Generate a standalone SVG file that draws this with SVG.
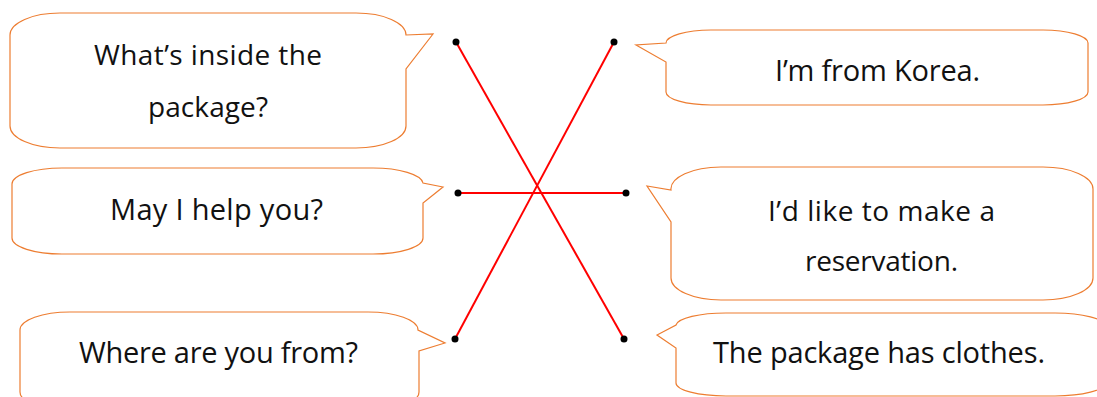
<svg xmlns="http://www.w3.org/2000/svg" width="1097" height="397" viewBox="0 0 1097 397">
<style>
.bub{fill:#fff;stroke:#ED7D31;stroke-width:1.2}
.t{font-family:"Open Sans","Noto Sans",sans-serif;fill:#111;text-anchor:middle}
.s1{font-size:29px}
.s2{font-size:28px}
.ln{stroke:#FF0000;stroke-width:2;fill:none}
.dot{fill:#000}
</style>
<rect width="1097" height="397" fill="#fff"/>
<g id="q1">
<path class="bub" d="M60,13 H356 A50,22 0 0 1 406,35 L433,34 L406,69 V126 A50,22 0 0 1 356,148 H60 A50,22 0 0 1 10,126 V35 A50,22 0 0 1 60,13 Z"/>
<text class="t s2" x="208" y="65" textLength="228" lengthAdjust="spacing">What’s inside the</text>
<text class="t s2" x="208" y="117" textLength="120" lengthAdjust="spacing">package?</text>
</g>
<g id="q2">
<path class="bub" d="M62,168 H373 A50,16 0 0 1 423,183 L443,187 L423,203 V238 A50,16 0 0 1 373,254 H62 A50,16 0 0 1 12,238 V184 A50,16 0 0 1 62,168 Z"/>
<text class="t s1" x="216.5" y="220" textLength="213" lengthAdjust="spacing">May I help you?</text>
</g>
<g id="q3">
<path class="bub" d="M70,312 H368 A50,18 0 0 1 418,330 L445,343 L419,351 V392 A50,18 0 0 1 368,410 H70 A50,18 0 0 1 20,392 V330 A50,18 0 0 1 70,312 Z"/>
<text class="t s1" x="218.5" y="363" textLength="279" lengthAdjust="spacing">Where are you from?</text>
</g>
<g id="a1">
<path class="bub" d="M711,30 H1043 A45,13 0 0 1 1088,43 V92 A45,13 0 0 1 1043,105 H711 A45,13 0 0 1 666,92 V62 L636,45 L666,43 A45,13 0 0 1 711,30 Z"/>
<text class="t s1" x="877.5" y="80.5" textLength="205" lengthAdjust="spacing">I’m from Korea.</text>
</g>
<g id="a2">
<path class="bub" d="M721,167 H1043 A50,22 0 0 1 1093,189 V278 A50,22 0 0 1 1043,300 H721 A50,22 0 0 1 671,278 V222 L647,186 L671,190 A50,22 0 0 1 721,167 Z"/>
<text class="t s2" x="881.5" y="221" textLength="227" lengthAdjust="spacing">I’d like to make a</text>
<text class="t s2" x="881.5" y="271" textLength="153" lengthAdjust="spacing">reservation.</text>
</g>
<g id="a3">
<path class="bub" d="M726,313 H1055 A50,13 0 0 1 1105,326 V383 A50,13 0 0 1 1055,396 H726 A50,13 0 0 1 676,383 V348 L657,335 L676,325 A50,13 0 0 1 726,313 Z"/>
<text class="t s1" x="879" y="363" textLength="332" lengthAdjust="spacing">The package has clothes.</text>
</g>
<g id="connectors">
<line class="ln" x1="456" y1="42" x2="624" y2="339"/>
<line class="ln" x1="614" y1="42" x2="455" y2="339"/>
<line class="ln" x1="458" y1="193" x2="626" y2="193"/>
<circle class="dot" cx="456" cy="42" r="3.5"/>
<circle class="dot" cx="614" cy="42" r="3.5"/>
<circle class="dot" cx="458" cy="193" r="3.5"/>
<circle class="dot" cx="626" cy="193" r="3.5"/>
<circle class="dot" cx="455" cy="339" r="3.5"/>
<circle class="dot" cx="624" cy="339" r="3.5"/>
</g>
</svg>
